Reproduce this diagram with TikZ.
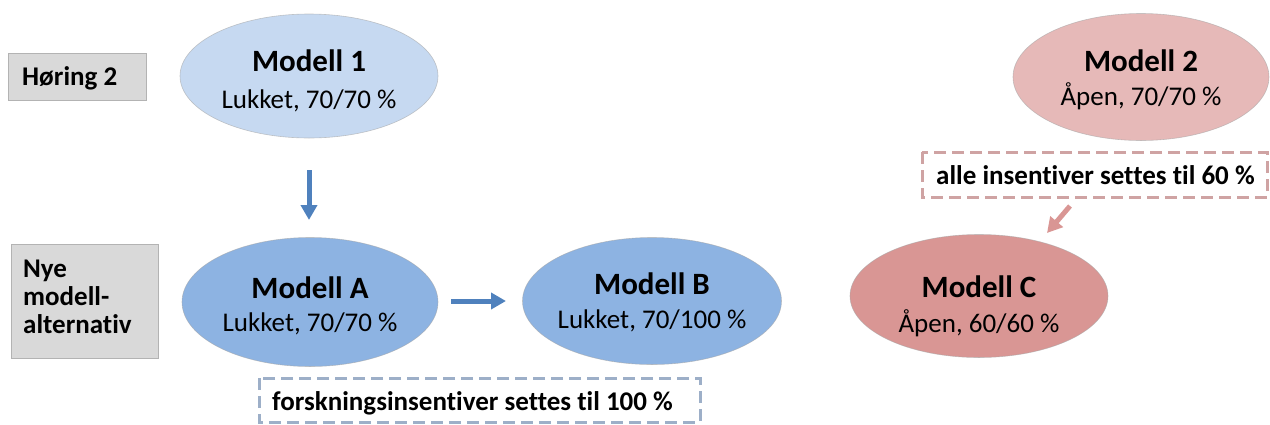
\documentclass[tikz,border=0pt]{standalone}
\usepackage{fontspec}
\setmainfont{Carlito}[RawFeature={-liga}]
\usetikzlibrary{shapes.geometric,arrows.meta}

\definecolor{lightblue}{HTML}{C6D9F1}
\definecolor{midblue}{HTML}{8DB3E2}
\definecolor{lightred}{HTML}{E6B9B8}
\definecolor{midred}{HTML}{D99694}
\definecolor{arrowblue}{HTML}{4F81BD}
\definecolor{boxgrey}{HTML}{D9D9D9}
\definecolor{boxedge}{HTML}{B3B3B3}
\definecolor{dashblue}{HTML}{9DAFC8}
\definecolor{dashred}{HTML}{CFA3A3}

\tikzset{
  model/.style={ellipse, inner sep=0pt, draw=black!35, draw opacity=0.6, line width=0.6pt},
  ttl/.style={anchor=base, inner sep=0pt, font=\fontsize{31}{36}\selectfont\bfseries},
  sub/.style={anchor=base, inner sep=0pt, font=\fontsize{27}{32}\selectfont},
  lbl/.style={anchor=base west, inner sep=0pt, font=\fontsize{27}{32}\selectfont\bfseries},
  greybox/.style={draw=boxedge, fill=boxgrey, line width=1pt, inner sep=0pt},
  notebox/.style={dash pattern=on 12pt off 6pt, line width=3pt},
  flow/.style={line width=5pt, -{Triangle[length=15pt,width=16pt]}},
}

\begin{document}
\begin{tikzpicture}[x=1pt,y=-1pt]
\useasboundingbox (0,0) rectangle (1270,424);

% row labels
\node[greybox, minimum width=138pt, minimum height=47pt] (hbox) at (77,76.5) {};
\node[lbl] at (22,85) {Høring 2};
\node[greybox, minimum width=147pt, minimum height=114pt] (nbox) at (84.5,301) {};
\node[lbl] at (23,277) {Nye};
\node[lbl] at (23,305) {modell-};
\node[lbl] at (23,333) {alternativ};

% models
\node[model, fill=lightblue, minimum width=258pt, minimum height=124pt] (m1) at (309,76) {};
\node[ttl] at (309,71) {Modell 1};
\node[sub] at (309,108) {Lukket, 70/70 \%};

\node[model, fill=lightred, minimum width=256pt, minimum height=127pt] (m2) at (1141,77) {};
\node[ttl] at (1141,71) {Modell 2};
\node[sub] at (1141,105) {Åpen, 70/70 \%};

\node[model, fill=midblue, minimum width=256pt, minimum height=129pt] (ma) at (310,302) {};
\node[ttl] at (310,298) {Modell A};
\node[sub] at (310,331) {Lukket, 70/70 \%};

\node[model, fill=midblue, minimum width=259pt, minimum height=127pt] (mb) at (652,301) {};
\node[ttl] at (652,294) {Modell B};
\node[sub] at (652,328) {Lukket, 70/100 \%};

\node[model, fill=midred, minimum width=258pt, minimum height=123pt] (mc) at (979,296) {};
\node[ttl] at (979,297) {Modell C};
\node[sub] at (979,332) {Åpen, 60/60 \%};

% dashed notes
\draw[notebox, draw=dashblue] (259,378) rectangle (700,422);
\node[lbl] (nfor) at (272,410) {forskningsinsentiver settes til 100 \%};
\draw[notebox, draw=dashred] (922,152) rectangle (1267,197);
\node[lbl] (nalle) at (936,184) {alle insentiver settes til 60 \%};

% arrows
\coordinate (d0) at (309,170);
\coordinate (d1) at (309,220);
\draw[flow, draw=arrowblue, fill=arrowblue] (d0) -- (d1);
\coordinate (h0) at (451,301);
\coordinate (h1) at (506,301);
\draw[flow, draw=arrowblue, fill=arrowblue] (h0) -- (h1);
\coordinate (p0) at (1070,206);
\coordinate (p1) at (1047,233);
\draw[flow, draw=midred, fill=midred] (p0) -- (p1);
\end{tikzpicture}
\end{document}
